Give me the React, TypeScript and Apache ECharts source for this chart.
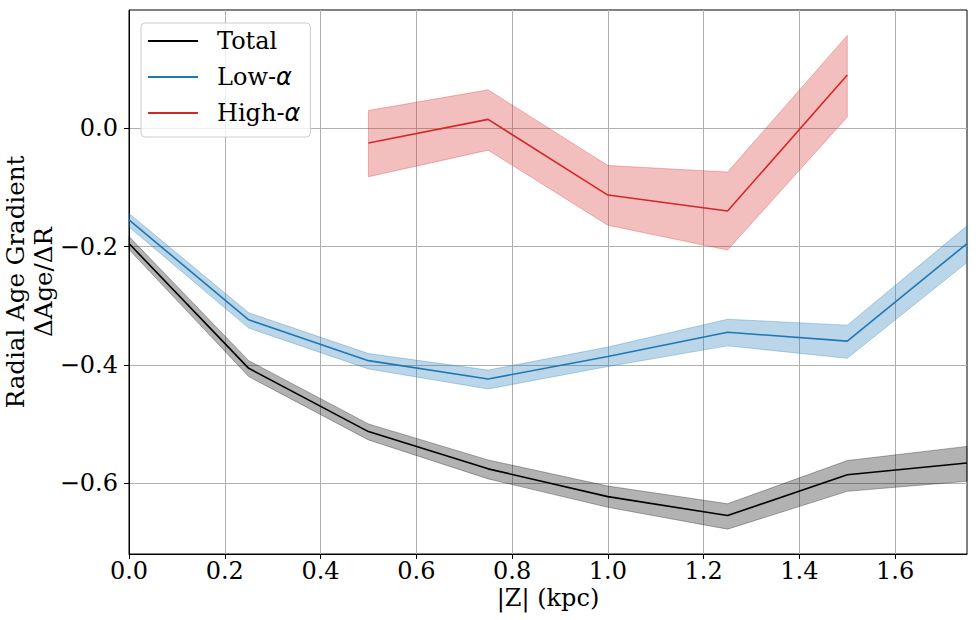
import React, { useEffect, useRef } from "react";
import * as echarts from "echarts";

// |Z| bins (kpc)
const zValues = [0, 0.25, 0.5, 0.75, 1.0, 1.25, 1.5, 1.75];
const totalMean = [-0.195, -0.406, -0.513, -0.576, -0.623, -0.655, -0.586, -0.566];
const totalLow = [-0.205, -0.420, -0.527, -0.593, -0.641, -0.678, -0.614, -0.597];
const totalHigh = [-0.183, -0.393, -0.500, -0.561, -0.605, -0.635, -0.562, -0.538];

const lowMean = [-0.155, -0.324, -0.393, -0.424, -0.386, -0.345, -0.360, -0.195];
const lowLow = [-0.167, -0.338, -0.407, -0.441, -0.403, -0.368, -0.389, -0.227];
const lowHigh = [-0.144, -0.312, -0.381, -0.409, -0.370, -0.323, -0.333, -0.165];

const highZ = [0.5, 0.75, 1.0, 1.25, 1.5];
const highMean = [-0.025, 0.015, -0.113, -0.140, 0.090];
const highLow = [-0.082, -0.037, -0.164, -0.206, 0.019];
const highHigh = [0.030, 0.065, -0.063, -0.074, 0.157];

const xTicks = [0, 0.2, 0.4, 0.6, 0.8, 1.0, 1.2, 1.4, 1.6];
const yTicks = [-0.6, -0.4, -0.2, 0.0];

const FONT = "'DejaVu Serif', serif";
const FS = 24;

const fmt = (v: number) => {
  const s = Math.abs(v).toFixed(1);
  return v < -1e-9 ? "\u2212" + s : s;
};

function bandSeries(name: string, xs: number[], lo: number[], hi: number[], fill: string) {
  const data = xs.map((x, i) => [x, lo[i], hi[i]]);
  return {
    type: "custom",
    name,
    silent: true,
    z: 1,
    coordinateSystem: "cartesian2d",
    encode: { x: 0, y: [1, 2] },
    data,
    renderItem: (params: any, api: any) => {
      if (params.dataIndex !== 0) return null;
      const upper = xs.map((x, i) => api.coord([x, hi[i]]));
      const lower = xs.map((x, i) => api.coord([x, lo[i]])).reverse();
      return {
        type: "polygon",
        shape: { points: upper.concat(lower) },
        style: { fill, stroke: fill, lineWidth: 1 },
      };
    },
  };
}

function lineSeries(name: string, xs: number[], ys: number[], color: string) {
  return {
    type: "line",
    name,
    z: 3,
    symbol: "none",
    showSymbol: false,
    data: xs.map((x, i) => [x, ys[i]]),
    lineStyle: { color, width: 1.6 },
    itemStyle: { color },
  };
}

export default function App() {
  const ref = useRef<HTMLDivElement>(null);
  useEffect(() => {
    if (!ref.current) return;
    const chart = echarts.init(ref.current, undefined, { renderer: "svg" });
    const textBase = { fontFamily: FONT, fontSize: FS, color: "#000" };
    chart.setOption({
      animation: false,
      backgroundColor: "#fff",
      textStyle: { fontFamily: FONT, fontSize: FS, color: "#000" },
      grid: {
        left: 129,
        right: 9,
        top: 10,
        bottom: 66,
        show: true,
        containLabel: false,
        outerBoundsMode: "none",
        borderColor: "#000",
        borderWidth: 1,
        backgroundColor: "transparent",
      },
      xAxis: {
        type: "value",
        min: 0,
        max: 1.75,
        name: "|Z| (kpc)",
        nameLocation: "middle",
        nameGap: 30,
        nameMoveOverlap: false,
        nameTextStyle: { fontFamily: FONT, fontSize: FS, color: "#000", lineHeight: 28 },
        axisLine: { show: true, onZero: false, lineStyle: { color: "#000", width: 1 } },
        axisTick: {
          show: true,
          length: 5,
          customValues: xTicks,
          lineStyle: { color: "#000", width: 1 },
        },
        axisLabel: {
          customValues: xTicks,
          margin: 5,
          formatter: (v: number) => fmt(v),
          ...textBase,
        },
        splitLine: { show: true, lineStyle: { color: "#b0b0b0", width: 1 } },
      },
      yAxis: {
        type: "value",
        min: -0.72,
        max: 0.2,
        name: "Radial Age Gradient\n\u0394Age/\u0394R",
        nameLocation: "middle",
        nameGap: 72,
        nameMoveOverlap: false,
        nameRotate: 90,
        nameTextStyle: { fontFamily: FONT, fontSize: 24.5, color: "#000", lineHeight: 28 },
        axisLine: { show: true, onZero: false, lineStyle: { color: "#000", width: 1 } },
        axisTick: {
          show: true,
          length: 5,
          customValues: yTicks,
          lineStyle: { color: "#000", width: 1 },
        },
        axisLabel: {
          customValues: yTicks,
          margin: 11,
          formatter: (v: number) => fmt(v),
          ...textBase,
        },
        splitLine: { show: true, lineStyle: { color: "#b0b0b0", width: 1 } },
      },
      legend: {
        orient: "vertical",
        left: 141,
        top: 23,
        data: ["Total", "Low-\u03b1", "High-\u03b1"],
        icon: "rect",
        itemWidth: 50,
        itemHeight: 2,
        itemGap: 10,
        padding: [5, 10, 11, 7],
        backgroundColor: "rgba(255,255,255,0.8)",
        borderColor: "#cccccc",
        borderWidth: 1,
        borderRadius: 4,
        selectedMode: false,
        formatter: (name: string) => {
          const parts = name.split("\u03b1");
          return parts.length > 1 ? `{t|${parts[0]}}{a|\u03b1}` : `{t|${name}}`;
        },
        textStyle: {
          fontFamily: FONT,
          fontSize: FS,
          color: "#000",
          lineHeight: 26,
          rich: {
            t: { fontFamily: FONT, fontSize: FS, lineHeight: 26, padding: [0, 0, 0, 14], color: "#000" },
            a: {
              fontFamily: "'DejaVu Sans', sans-serif",
              fontStyle: "italic",
              fontSize: FS,
              lineHeight: 26,
              color: "#000",
            },
          },
        },
      },
      series: [
        bandSeries("Total band", zValues, totalLow, totalHigh, "rgba(0,0,0,0.3)"),
        bandSeries("Low band", zValues, lowLow, lowHigh, "rgba(31,119,180,0.3)"),
        bandSeries("High band", highZ, highLow, highHigh, "rgba(214,39,40,0.3)"),
        lineSeries("Total", zValues, totalMean, "#000000"),
        lineSeries("Low-\u03b1", zValues, lowMean, "#1f77b4"),
        lineSeries("High-\u03b1", highZ, highMean, "#d62728"),
      ],
    });
    return () => chart.dispose();
  }, []);
  return (
    <div
      ref={ref}
      style={{ position: "absolute", left: 0, top: 0, width: 976, height: 620 }}
    />
  );
}
